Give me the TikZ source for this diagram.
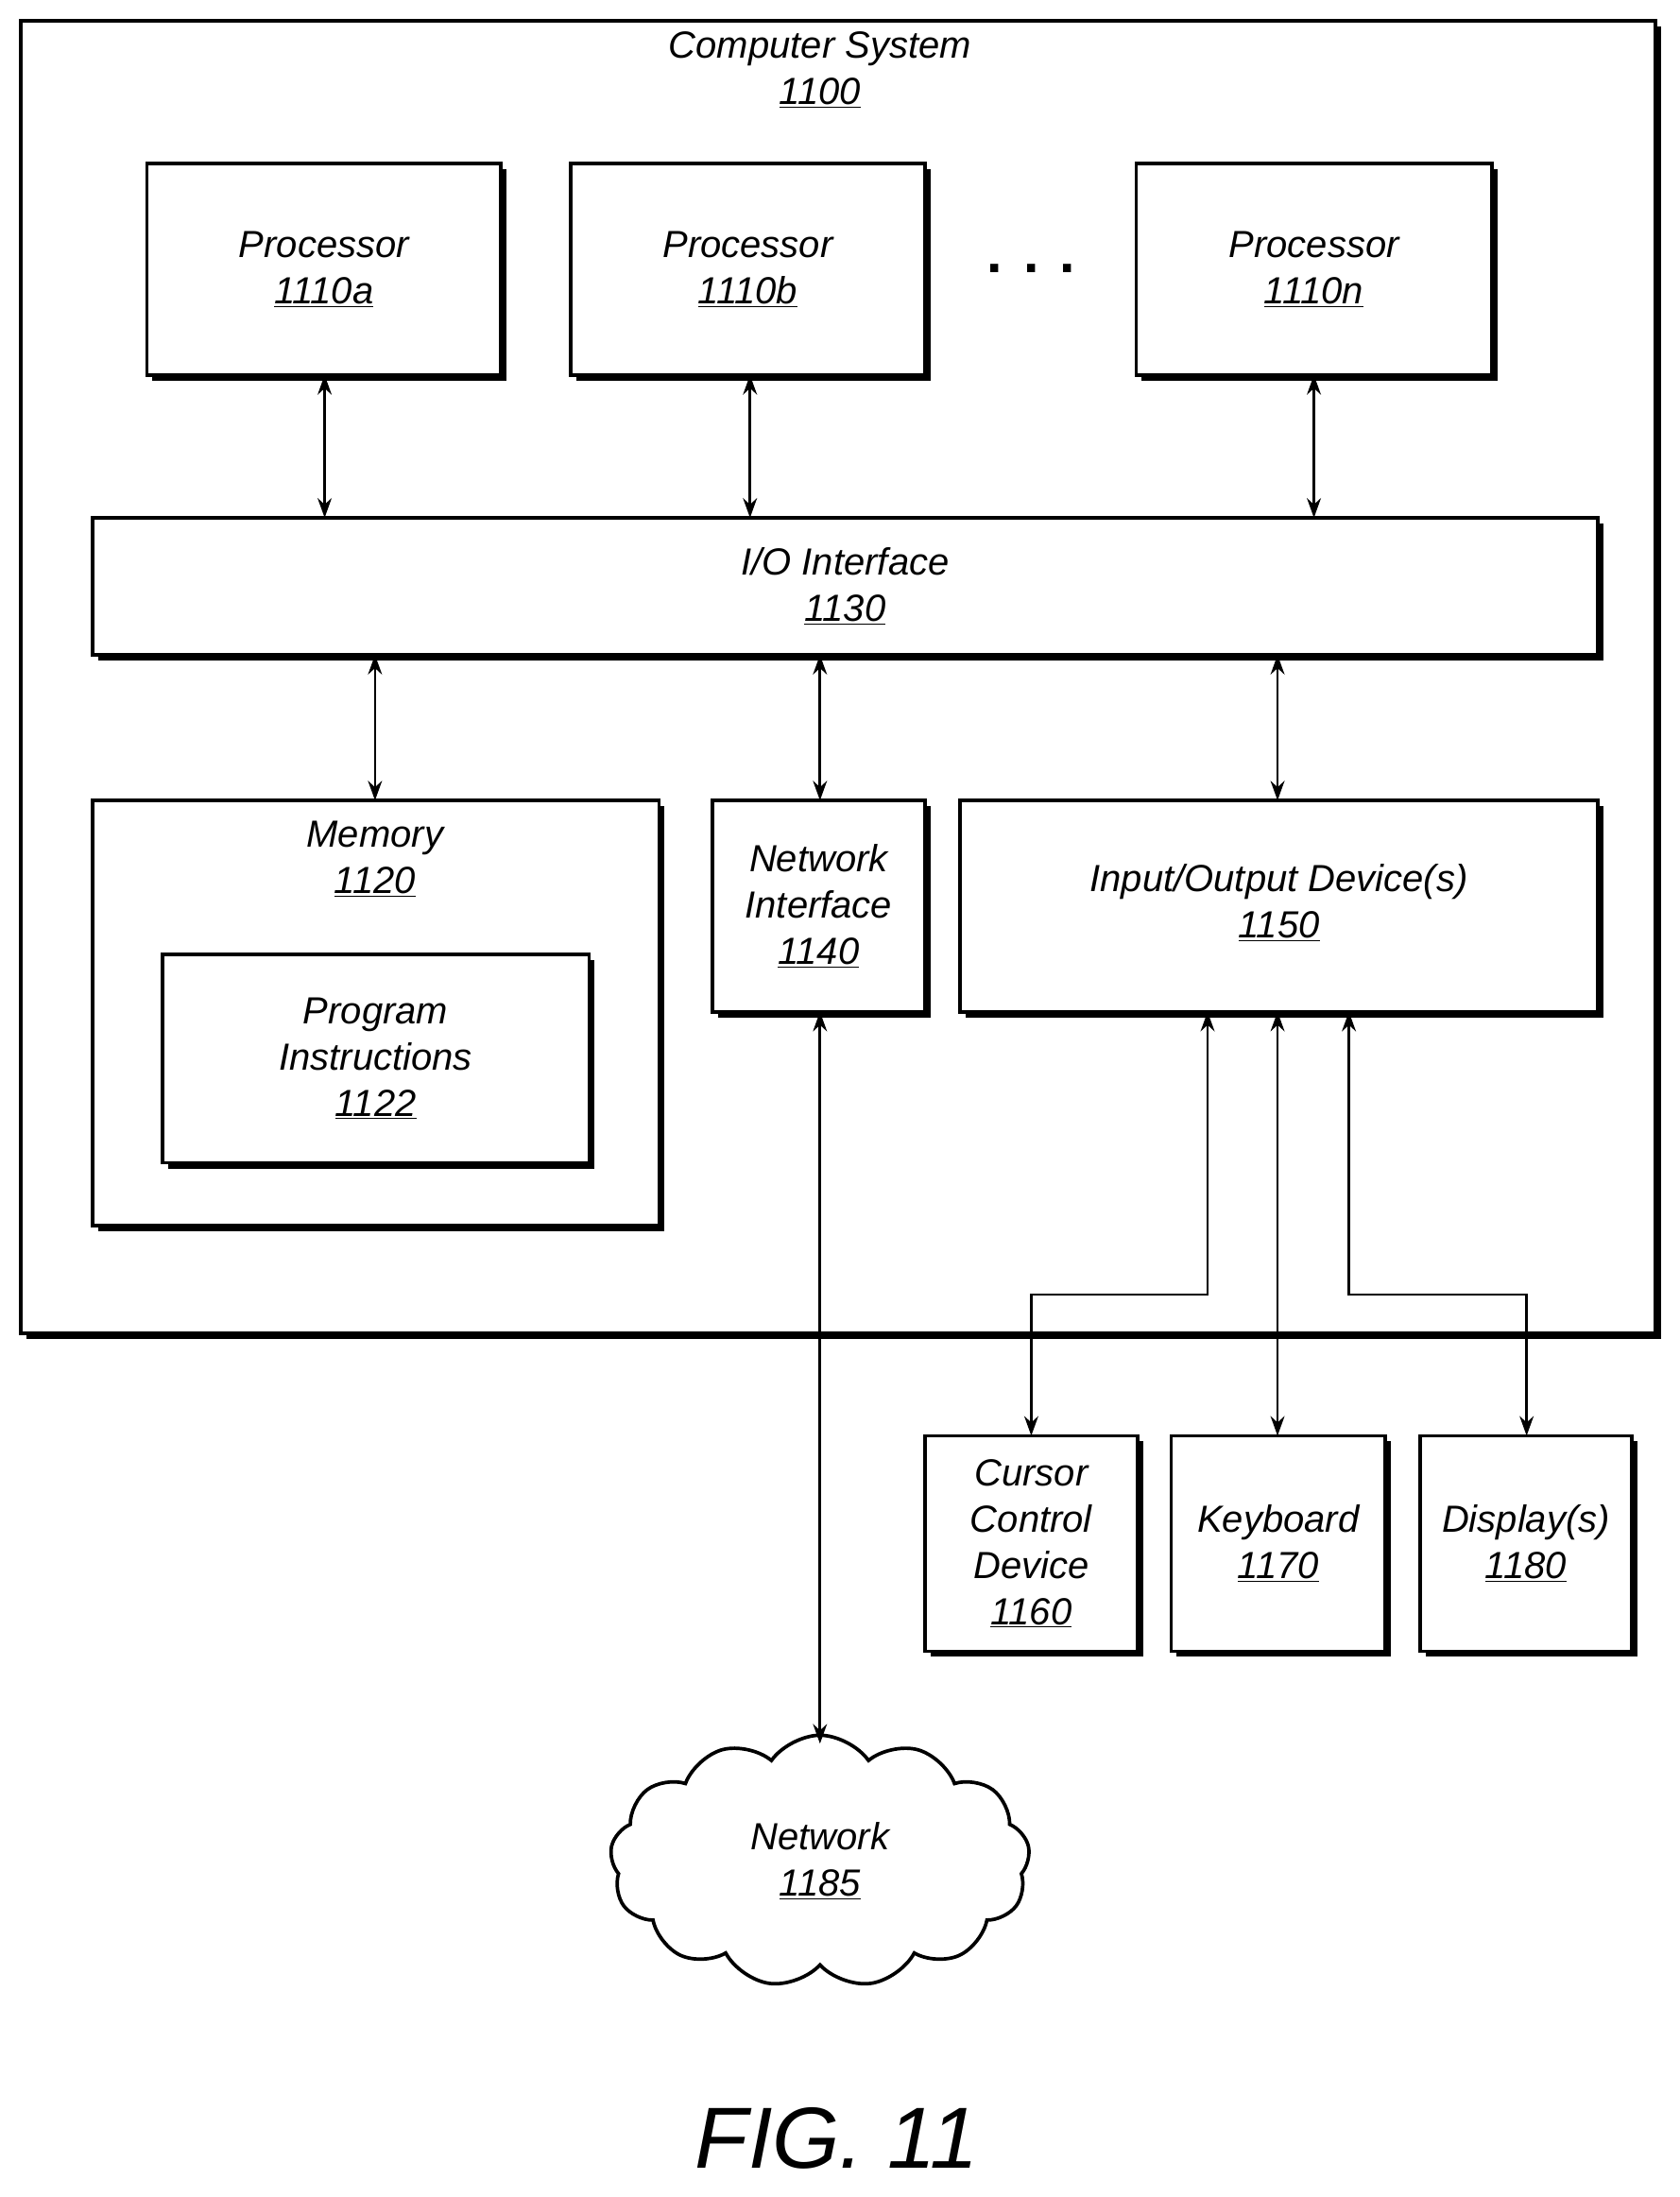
\documentclass[tikz,border=0pt]{standalone}
\usepackage{fontspec}
\setmainfont{Liberation Sans}
\usetikzlibrary{shapes.symbols,arrows.meta}
\begin{document}
\begin{tikzpicture}[x=1pt,y=-1pt,
  lbl/.style={font=\fontsize{27}{33}\selectfont\itshape,align=center,inner sep=0},
  box/.style={draw,line width=2.5pt},
  arr/.style={line width=1.8pt,{Stealth[length=14pt,width=10pt]}-{Stealth[length=14pt,width=10pt]}}]
\useasboundingbox (0,0) rectangle (1200,1570);
\newcommand{\bx}[5]{%
  \fill (#2+4,#3+4) rectangle (#4+4,#5+4);
  \draw[box,fill=white] (#2,#3) rectangle (#4,#5);
  \coordinate (#1) at ({(#2+#4)/2},{(#3+#5)/2});}
\fill (19,19) rectangle (1187,957);
\draw[box,fill=white] (15,15) rectangle (1183,953);
\node[lbl] (cs) at (586,50) {Computer System\\\underline{1100}};
\bx{pa}{105}{117}{358}{268}
\bx{pb}{408}{117}{661}{268}
\bx{pn}{812}{117}{1066}{268}
\node[lbl] at (pa) {Processor\\\underline{1110a}};
\node[lbl] at (pb) {Processor\\\underline{1110b}};
\node[lbl] at (pn) {Processor\\\underline{1110n}};
\node[font=\fontsize{40}{40}\selectfont\bfseries] (dots) at (737,192) {. . .};
\bx{io}{66}{370}{1142}{468}
\node[lbl] at (io) {I/O Interface\\\underline{1130}};
\bx{mem}{66}{572}{471}{876}
\node[lbl] (meml) at (268,614) {Memory\\\underline{1120}};
\bx{pi}{116}{682}{421}{831}
\node[lbl] at (pi) {Program\\Instructions\\\underline{1122}};
\bx{ni}{509}{572}{661}{723}
\node[lbl] at (ni) {Network\\Interface\\\underline{1140}};
\bx{iod}{686}{572}{1142}{723}
\node[lbl] (iodl) at (914,645) {Input/Output Device(s)\\\underline{1150}};
\bx{cc}{661}{1026}{813}{1180}
\node[lbl] at (cc) {Cursor\\Control\\Device\\\underline{1160}};
\bx{kb}{837}{1026}{990}{1180}
\node[lbl] at (kb) {Keyboard\\\underline{1170}};
\bx{dp}{1015}{1026}{1166}{1180}
\node[lbl] at (dp) {Display(s)\\\underline{1180}};
\node[cloud,draw,line width=2.5pt,cloud puffs=13,cloud puff arc=110,aspect=1.6,minimum width=300pt,minimum height=180pt,font=\fontsize{27}{33}\selectfont\itshape,align=center] (net) at (586,1330) {Network\\\underline{1185}};
\node[font=\fontsize{62}{62}\selectfont\itshape] (fig) at (598,1528) {FIG. 11};
\coordinate (a1) at (232,268); \coordinate (a2) at (232,370);
\coordinate (b1) at (536,268); \coordinate (b2) at (536,370);
\coordinate (n1) at (939,268); \coordinate (n2) at (939,370);
\draw[arr] (a1) -- (a2); \draw[arr] (b1) -- (b2); \draw[arr] (n1) -- (n2);
\coordinate (m1) at (268,468); \coordinate (m2) at (268,572);
\coordinate (k1) at (586,468); \coordinate (k2) at (586,572);
\coordinate (d1) at (913,468); \coordinate (d2) at (913,572);
\draw[arr] (m1) -- (m2); \draw[arr] (k1) -- (k2); \draw[arr] (d1) -- (d2);
\coordinate (c1) at (863,723); \coordinate (c2) at (737,1026);
\draw[arr] (c1) -- (863,925) -- (737,925) -- (c2);
\coordinate (k3) at (913,723); \coordinate (k4) at (913,1026);
\draw[arr] (k3) -- (k4);
\coordinate (e1) at (964,723); \coordinate (e2) at (1091,1026);
\draw[arr] (e1) -- (964,925) -- (1091,925) -- (e2);
\coordinate (x1) at (586,723); \coordinate (x2) at (586,1246);
\draw[arr] (x1) -- (x2);
\end{tikzpicture}
\end{document}
